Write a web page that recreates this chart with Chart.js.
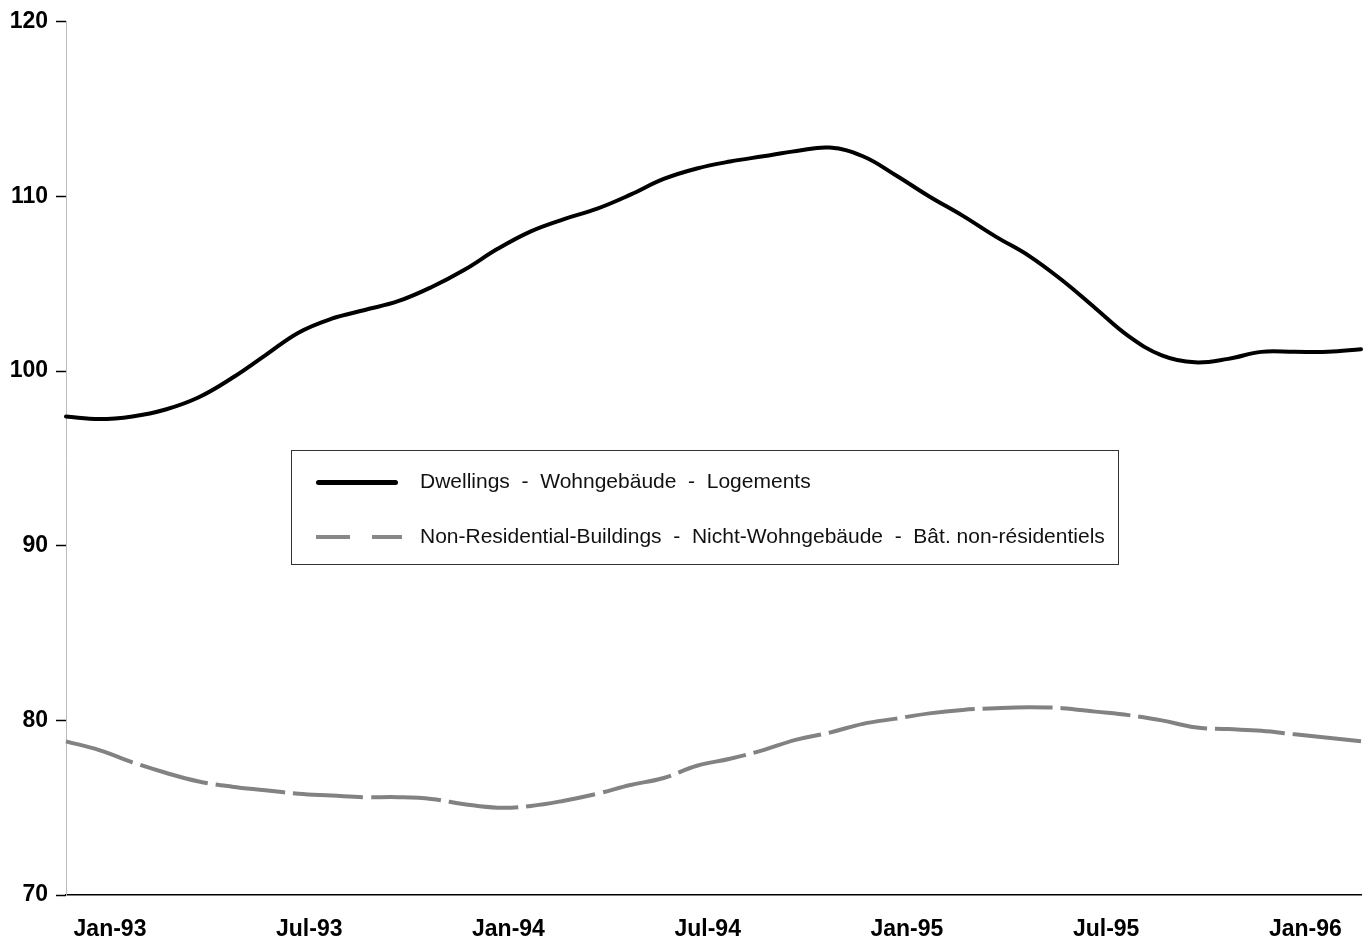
<!DOCTYPE html>
<html>
<head>
<meta charset="utf-8">
<script src="https://cdn.jsdelivr.net/npm/chart.js@4/dist/chart.umd.min.js"></script>
<style>
  body { margin: 0; background: #fff; }
  #wrap { position: relative; width: 1370px; height: 939px; }
  #legend {
    position: absolute; left: 291px; top: 450px; width: 826px; height: 113px;
    border: 1px solid #333; background: #fff;
    font-family: "Liberation Sans", Arial, sans-serif; font-size: 21px; color: #111;
  }
  .row { position: absolute; left: 0; white-space: pre; }
  .txt { position: absolute; left: 128px; top: -11px; }
  .solid { position: absolute; left: 24px; top: 0; width: 82px; height: 5px; background: #000; border-radius: 3px; }
  .dash { position: absolute; top: 0; height: 4px; background: #888; }
</style>
</head>
<body>
<div id="wrap">
  <canvas id="chart" width="1370" height="939"></canvas>
  <div id="legend">
    <div class="row" style="top:29px">
      <div class="solid"></div>
      <div class="txt">Dwellings  -  Wohngebäude  -  Logements</div>
    </div>
    <div class="row" style="top:84px">
      <div class="dash" style="left:24px;width:34px"></div>
      <div class="dash" style="left:80px;width:30px"></div>
      <div class="txt">Non-Residential-Buildings  -  Nicht-Wohngebäude  -  Bât. non-résidentiels</div>
    </div>
  </div>
</div>
<script>
const months = [
  "Jan-93","Feb-93","Mar-93","Apr-93","May-93","Jun-93","Jul-93","Aug-93","Sep-93","Oct-93","Nov-93","Dec-93",
  "Jan-94","Feb-94","Mar-94","Apr-94","May-94","Jun-94","Jul-94","Aug-94","Sep-94","Oct-94","Nov-94","Dec-94",
  "Jan-95","Feb-95","Mar-95","Apr-95","May-95","Jun-95","Jul-95","Aug-95","Sep-95","Oct-95","Nov-95","Dec-95",
  "Jan-96","Feb-96","Mar-96","Apr-96"
];

const dwellings = [
  97.4, 97.25, 97.4, 97.8, 98.5, 99.6, 100.9, 102.2, 103.0, 103.5, 104.0, 104.8,
  105.8, 107.0, 108.0, 108.7, 109.3, 110.1, 111.0, 111.6, 112.0, 112.3, 112.6, 112.8,
  112.3, 111.2, 110.0, 108.9, 107.7, 106.6, 105.2, 103.6, 102.0, 100.9, 100.5, 100.7,
  101.1, 101.1, 101.1, 101.25
];

const nonResidential = [
  78.8, 78.3, 77.6, 77.0, 76.5, 76.2, 76.0, 75.8, 75.7, 75.6, 75.6, 75.5,
  75.2, 75.0, 75.1, 75.4, 75.8, 76.3, 76.7, 77.4, 77.8, 78.3, 78.9, 79.3,
  79.8, 80.1, 80.4, 80.6, 80.7, 80.75, 80.7, 80.5, 80.3, 80.0, 79.6, 79.5,
  79.4, 79.2, 79.0, 78.8
];

const shownLabels = ["Jan-93","Jul-93","Jan-94","Jul-94","Jan-95","Jul-95","Jan-96"];
const yTicks = [70, 80, 90, 100, 110, 120];

const axisFont = { family: "'Liberation Sans', Arial, sans-serif", size: 23, weight: "bold" };

new Chart(document.getElementById("chart").getContext("2d"), {
  type: "line",
  data: {
    labels: months,
    datasets: [
      {
        label: "Dwellings - Wohngebäude - Logements",
        data: dwellings,
        borderColor: "#000",
        borderWidth: 4,
        tension: 0.4,
        pointRadius: 0,
        borderCapStyle: "round"
      },
      {
        label: "Non-Residential-Buildings - Nicht-Wohngebäude - Bât. non-résidentiels",
        data: nonResidential,
        borderColor: "#828282",
        borderWidth: 4,
        borderDash: [70, 8],
        tension: 0.4,
        pointRadius: 0
      }
    ]
  },
  options: {
    responsive: false,
    animation: false,
    layout: { padding: { top: 20, right: 9, left: 0, bottom: 0 } },
    plugins: { legend: { display: false }, tooltip: { enabled: false } },
    scales: {
      x: {
        afterFit: (s) => { s.height = 44; s.paddingRight = 0; s.paddingLeft = 0; },
        grid: { drawOnChartArea: false, drawTicks: false },
        border: { color: "#000", width: 1.5 },
        ticks: {
          autoSkip: false,
          maxRotation: 0,
          padding: 21,
          labelOffset: 44,
          color: "#000",
          font: axisFont,
          callback: function (v) {
            const l = months[v];
            return shownLabels.includes(l) ? l : "";
          }
        }
      },
      y: {
        min: 70,
        max: 120,
        afterFit: (s) => { s.width = 66; },
        afterBuildTicks: (s) => { s.ticks = yTicks.map(v => ({ value: v })); },
        grid: { drawOnChartArea: false, drawTicks: true, tickLength: 10, color: "#000", tickWidth: 1.5 },
        border: { color: "#bbb", width: 1, dash: [6, 10] },
        ticks: { padding: 8, color: "#000", font: axisFont }
      }
    }
  }
});
</script>
</body>
</html>
